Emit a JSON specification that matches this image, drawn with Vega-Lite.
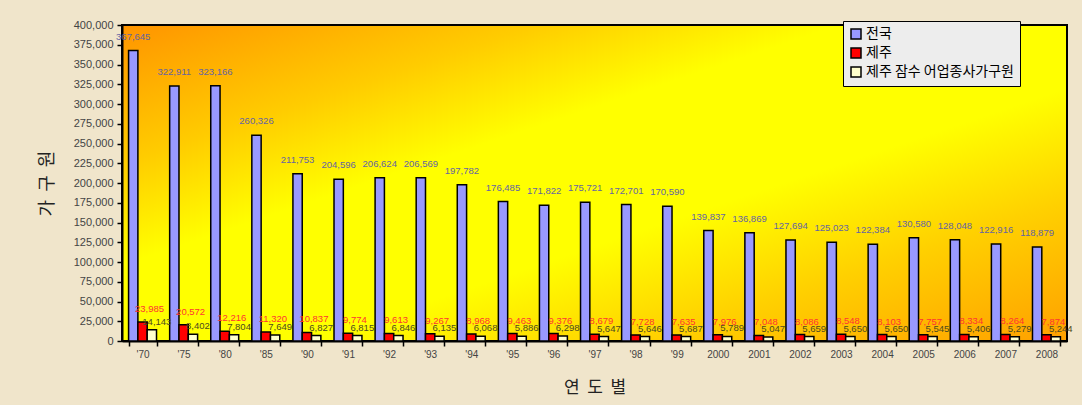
{
 "$schema": "https://vega.github.io/schema/vega-lite/v6.json",
 "width": 945,
 "height": 316,
 "autosize": {"type": "none"},
 "padding": {"left": 122, "top": 25, "right": 15, "bottom": 64},
 "background": "#f0e5cb",
 "config": {
  "view": {
   "fill": {"gradient": "linear", "x1": 0, "y1": 0, "x2": 1, "y2": 1,
    "stops": [{"offset": 0, "color": "#ff9400"}, {"offset": 0.22, "color": "#ffcc00"}, {"offset": 0.38, "color": "#ffff00"}, {"offset": 0.6, "color": "#ffff00"}, {"offset": 0.78, "color": "#ffd000"}, {"offset": 1, "color": "#ffa000"}]},
   "stroke": "#000000",
   "strokeWidth": 2
  },
  "font": "Liberation Sans"
 },
 "data": {"values": [
  {"year": "'70", "series": "전국", "value": 367645}, {"year": "'70", "series": "제주", "value": 23985}, {"year": "'70", "series": "제주 잠수 어업종사가구원", "value": 14143},
  {"year": "'75", "series": "전국", "value": 322911}, {"year": "'75", "series": "제주", "value": 20572}, {"year": "'75", "series": "제주 잠수 어업종사가구원", "value": 8402},
  {"year": "'80", "series": "전국", "value": 323166}, {"year": "'80", "series": "제주", "value": 12216}, {"year": "'80", "series": "제주 잠수 어업종사가구원", "value": 7804},
  {"year": "'85", "series": "전국", "value": 260326}, {"year": "'85", "series": "제주", "value": 11320}, {"year": "'85", "series": "제주 잠수 어업종사가구원", "value": 7649},
  {"year": "'90", "series": "전국", "value": 211753}, {"year": "'90", "series": "제주", "value": 10837}, {"year": "'90", "series": "제주 잠수 어업종사가구원", "value": 6827},
  {"year": "'91", "series": "전국", "value": 204596}, {"year": "'91", "series": "제주", "value": 9774}, {"year": "'91", "series": "제주 잠수 어업종사가구원", "value": 6815},
  {"year": "'92", "series": "전국", "value": 206624}, {"year": "'92", "series": "제주", "value": 9613}, {"year": "'92", "series": "제주 잠수 어업종사가구원", "value": 6846},
  {"year": "'93", "series": "전국", "value": 206569}, {"year": "'93", "series": "제주", "value": 9267}, {"year": "'93", "series": "제주 잠수 어업종사가구원", "value": 6135},
  {"year": "'94", "series": "전국", "value": 197782}, {"year": "'94", "series": "제주", "value": 8968}, {"year": "'94", "series": "제주 잠수 어업종사가구원", "value": 6068},
  {"year": "'95", "series": "전국", "value": 176485}, {"year": "'95", "series": "제주", "value": 9463}, {"year": "'95", "series": "제주 잠수 어업종사가구원", "value": 5886},
  {"year": "'96", "series": "전국", "value": 171822}, {"year": "'96", "series": "제주", "value": 9376}, {"year": "'96", "series": "제주 잠수 어업종사가구원", "value": 6298},
  {"year": "'97", "series": "전국", "value": 175721}, {"year": "'97", "series": "제주", "value": 8679}, {"year": "'97", "series": "제주 잠수 어업종사가구원", "value": 5647},
  {"year": "'98", "series": "전국", "value": 172701}, {"year": "'98", "series": "제주", "value": 7728}, {"year": "'98", "series": "제주 잠수 어업종사가구원", "value": 5646},
  {"year": "'99", "series": "전국", "value": 170590}, {"year": "'99", "series": "제주", "value": 7635}, {"year": "'99", "series": "제주 잠수 어업종사가구원", "value": 5687},
  {"year": "2000", "series": "전국", "value": 139837}, {"year": "2000", "series": "제주", "value": 7976}, {"year": "2000", "series": "제주 잠수 어업종사가구원", "value": 5789},
  {"year": "2001", "series": "전국", "value": 136869}, {"year": "2001", "series": "제주", "value": 7048}, {"year": "2001", "series": "제주 잠수 어업종사가구원", "value": 5047},
  {"year": "2002", "series": "전국", "value": 127694}, {"year": "2002", "series": "제주", "value": 8086}, {"year": "2002", "series": "제주 잠수 어업종사가구원", "value": 5659},
  {"year": "2003", "series": "전국", "value": 125023}, {"year": "2003", "series": "제주", "value": 8548}, {"year": "2003", "series": "제주 잠수 어업종사가구원", "value": 5650},
  {"year": "2004", "series": "전국", "value": 122384}, {"year": "2004", "series": "제주", "value": 8103}, {"year": "2004", "series": "제주 잠수 어업종사가구원", "value": 5650},
  {"year": "2005", "series": "전국", "value": 130580}, {"year": "2005", "series": "제주", "value": 7757}, {"year": "2005", "series": "제주 잠수 어업종사가구원", "value": 5545},
  {"year": "2006", "series": "전국", "value": 128048}, {"year": "2006", "series": "제주", "value": 8334}, {"year": "2006", "series": "제주 잠수 어업종사가구원", "value": 5406},
  {"year": "2007", "series": "전국", "value": 122916}, {"year": "2007", "series": "제주", "value": 8264}, {"year": "2007", "series": "제주 잠수 어업종사가구원", "value": 5279},
  {"year": "2008", "series": "전국", "value": 118879}, {"year": "2008", "series": "제주", "value": 7874}, {"year": "2008", "series": "제주 잠수 어업종사가구원", "value": 5244}
 ]},
 "encoding": {
  "x": {
   "field": "year", "type": "nominal", "sort": null,
   "scale": {"paddingInner": 0.32, "paddingOuter": 0.16},
   "axis": {
    "title": "연\u00a0\u00a0도\u00a0\u00a0별", "titleFont": "Noto Sans CJK KR", "titleFontSize": 17, "titleFontWeight": "normal", "titleColor": "#222222",
    "titleY": 46, "titleBaseline": "middle",
    "labelAngle": 0, "labelFontSize": 10, "labelColor": "#444444", "labelPadding": 3,
    "tickBand": "extent", "tickSize": 5, "tickColor": "#000000", "tickWidth": 1.5,
    "domainColor": "#000000", "domainWidth": 2, "grid": false
   }
  },
  "xOffset": {"field": "series", "type": "nominal", "scale": {"domain": ["전국", "제주", "제주 잠수 어업종사가구원"], "paddingInner": 0, "paddingOuter": 0}},
  "y": {
   "field": "value", "type": "quantitative",
   "scale": {"domain": [0, 400000], "nice": false},
   "axis": {
    "title": "가\u00a0\u00a0구\u00a0\u00a0원", "titleFont": "Noto Sans CJK KR", "titleFontSize": 18, "titleFontWeight": "normal", "titleColor": "#222222",
    "titleX": -75, "titleY": 158, "titleBaseline": "middle", "titleAlign": "center",
    "values": [0, 25000, 50000, 75000, 100000, 125000, 150000, 175000, 200000, 225000, 250000, 275000, 300000, 325000, 350000, 375000, 400000],
    "format": ",d", "labelFontSize": 11, "labelColor": "#444444", "labelPadding": 4,
    "tickSize": 5, "tickColor": "#000000", "tickWidth": 1.5,
    "domainColor": "#000000", "domainWidth": 2, "grid": false
   }
  }
 },
 "layer": [
  {
   "mark": {"type": "bar", "stroke": "#000000", "strokeWidth": 1.5},
   "encoding": {
    "color": {
     "field": "series", "type": "nominal",
     "scale": {"domain": ["전국", "제주", "제주 잠수 어업종사가구원"], "range": ["#9999ff", "#ff0000", "#ffffcc"]},
     "legend": {
      "title": null, "orient": "none", "legendX": 721, "legendY": -4,
      "fillColor": "#ededed", "strokeColor": "#000000", "padding": 6,
      "symbolType": "square", "symbolSize": 100, "symbolStrokeColor": "#000000", "symbolStrokeWidth": 1.5,
      "labelFont": "Noto Sans CJK KR", "labelFontSize": 14, "labelColor": "#000000", "labelOffset": 3,
      "rowPadding": 3, "labelLimit": 300
     }
    }
   }
  },
  {
   "transform": [{"filter": "datum.series === '전국'"}],
   "mark": {"type": "text", "dy": -14, "fontSize": 9.5, "color": "#6464a4"},
   "encoding": {"text": {"field": "value", "type": "quantitative", "format": ",d"}}
  },
  {
   "transform": [{"filter": "datum.series === '제주'"}],
   "mark": {"type": "text", "dy": -13, "dx": 7, "fontSize": 9.5, "color": "#ff3333"},
   "encoding": {"text": {"field": "value", "type": "quantitative", "format": ",d"}}
  },
  {
   "transform": [{"filter": "datum.series === '제주 잠수 어업종사가구원'"}],
   "mark": {"type": "text", "dy": -8, "dx": 5, "fontSize": 9.5, "color": "#4d4a20"},
   "encoding": {"text": {"field": "value", "type": "quantitative", "format": ",d"}}
  }
 ]
}
